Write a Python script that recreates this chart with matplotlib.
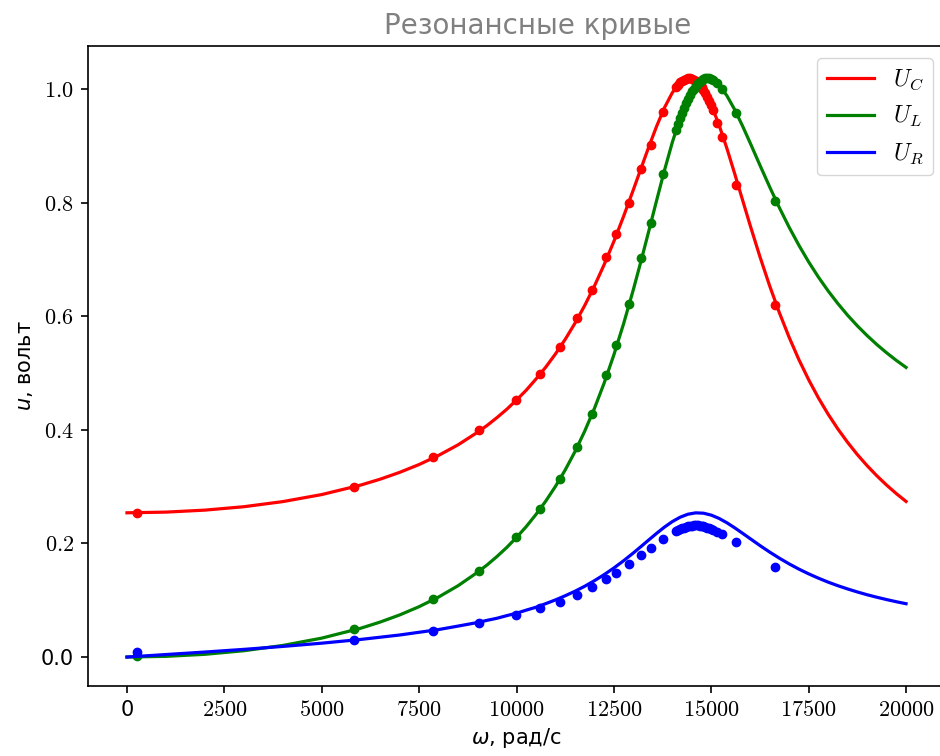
import matplotlib
matplotlib.use('Agg')
import matplotlib.pyplot as plt

# измеренные точки: частота, рад/с
omega_exp = [257, 5828, 7856, 9037, 9987, 10603, 11116, 11553, 11938, 12298,
             12554, 12888, 13196, 13453, 13761,
             14100, 14150, 14200, 14250, 14300, 14350, 14400, 14450, 14500, 14550,
             14600, 14650, 14700, 14750, 14800, 14850, 14900, 14950, 15000, 15050,
             15150, 15275, 15635, 16637]
uc_exp = [0.254, 0.299, 0.352, 0.399, 0.453, 0.499, 0.546, 0.597, 0.646, 0.704,
          0.745, 0.799, 0.859, 0.901, 0.960,
          1.004, 1.008, 1.012, 1.015, 1.017, 1.018, 1.019, 1.019, 1.018, 1.016,
          1.015, 1.011, 1.008, 1.003, 0.999, 0.993, 0.986, 0.979, 0.972, 0.964,
          0.940, 0.915, 0.832, 0.620]
ul_exp = [0.001, 0.049, 0.102, 0.151, 0.211, 0.261, 0.313, 0.370, 0.428, 0.496,
          0.549, 0.621, 0.702, 0.764, 0.850,
          0.928, 0.938, 0.949, 0.958, 0.967, 0.975, 0.983, 0.990, 0.996, 1.001,
          1.006, 1.010, 1.013, 1.016, 1.018, 1.019, 1.019, 1.019, 1.018, 1.016,
          1.010, 1.001, 0.958, 0.803]
ur_exp = [0.009, 0.030, 0.046, 0.060, 0.074, 0.086, 0.097, 0.109, 0.123, 0.137,
          0.148, 0.164, 0.180, 0.192, 0.208,
          0.222, 0.224, 0.226, 0.227, 0.228, 0.229, 0.230, 0.231, 0.231, 0.232,
          0.232, 0.232, 0.231, 0.231, 0.230, 0.229, 0.228, 0.227, 0.226, 0.224,
          0.221, 0.217, 0.202, 0.158]

# теоретические кривые
omega_th = [0, 1000, 2000, 3000, 4000, 5000, 6000, 6500, 7000, 7500, 8000, 8500,
            9000, 9250, 9500, 9750, 10000, 10250, 10500, 10750, 11000, 11250,
            11500, 11750, 12000, 12250, 12500, 12750, 13000, 13200, 13400, 13600,
            13800, 14000, 14200, 14400, 14600, 14800, 15000, 15200, 15400, 15600,
            15800, 16000, 16250, 16500, 16750, 17000, 17250, 17500, 17750, 18000,
            18250, 18500, 18750, 19000, 19250, 19500, 19750, 20000]
uc_th = [0.254, 0.2552, 0.2587, 0.2647, 0.2737, 0.2861, 0.3028, 0.3132, 0.3252,
         0.3390, 0.3551, 0.3737, 0.3958, 0.4081, 0.4217, 0.4363, 0.4526, 0.4699,
         0.4895, 0.5104, 0.5337, 0.5594, 0.5877, 0.6189, 0.6533, 0.6910, 0.7320,
         0.7762, 0.8229, 0.8611, 0.8991, 0.9352, 0.9676, 0.9938, 1.0116, 1.0189,
         1.0146, 0.9985, 0.9720, 0.9369, 0.8959, 0.8514, 0.8055, 0.7598, 0.7048,
         0.6534, 0.6060, 0.5628, 0.5236, 0.4883, 0.4564, 0.4276, 0.4016, 0.3780,
         0.3565, 0.3370, 0.3192, 0.3028, 0.2878, 0.2740]
ul_th = [0.0, 0.0012, 0.0048, 0.0111, 0.0204, 0.0333, 0.0507, 0.0616, 0.0741,
         0.0887, 0.1057, 0.1256, 0.1492, 0.1625, 0.1771, 0.1930, 0.2106, 0.2297,
         0.2511, 0.2745, 0.3005, 0.3294, 0.3616, 0.3976, 0.4377, 0.4825, 0.5322,
         0.5871, 0.6471, 0.6982, 0.7512, 0.8049, 0.8574, 0.9064, 0.9491, 0.9831,
         1.0063, 1.0177, 1.0176, 1.0072, 0.9886, 0.9641, 0.9356, 0.9051, 0.8660,
         0.8277, 0.7910, 0.7567, 0.7250, 0.6958, 0.6691, 0.6447, 0.6224, 0.6019,
         0.5832, 0.5661, 0.5503, 0.5358, 0.5224, 0.5100]
ur_th = [0.0, 0.0044, 0.0088, 0.0135, 0.0187, 0.0244, 0.0310, 0.0349, 0.0388,
         0.0436, 0.0484, 0.0545, 0.0608, 0.0647, 0.0683, 0.0729, 0.0772, 0.0826,
         0.0877, 0.0940, 0.1006, 0.1079, 0.1158, 0.1246, 0.1344, 0.1451, 0.1568,
         0.1696, 0.1833, 0.1948, 0.2065, 0.2180, 0.2289, 0.2385, 0.2462, 0.2515,
         0.2539, 0.2533, 0.2499, 0.2441, 0.2365, 0.2276, 0.2181, 0.2084, 0.1963,
         0.1848, 0.1740, 0.1640, 0.1548, 0.1465, 0.1389, 0.1319, 0.1256, 0.1199,
         0.1146, 0.1097, 0.1053, 0.1012, 0.0974, 0.0939]

x_ticks = [0, 2500, 5000, 7500, 10000, 12500, 15000, 17500, 20000]
x_ticklabels = ['0'] + ['$%d$' % t for t in x_ticks[1:]]
y_ticks = [0.0, 0.2, 0.4, 0.6, 0.8, 1.0]
y_ticklabels = ['0.0'] + ['$%.1f$' % t for t in y_ticks[1:]]

plt.rcParams['font.family'] = ['DejaVu Sans']
plt.rcParams['mathtext.fontset'] = 'cm'

fig = plt.figure(figsize=(9.4, 7.56), dpi=100)
# правый край осей уходит за край картинки, как в оригинале
ax = fig.add_axes([88 / 940, 70 / 756, 857 / 940, 640 / 756])

series = [(uc_th, uc_exp, 'red', '$U_C$'),
          (ul_th, ul_exp, 'green', '$U_L$'),
          (ur_th, ur_exp, 'blue', '$U_R$')]
for th, exp, color, label in series:
    ax.plot(omega_th, th, color=color, lw=2.3, label=label)
    ax.plot(omega_exp, exp, 'o', color=color, ms=6)

ax.set_xlim(-1000, 21000)
ax.set_ylim(-0.051, 1.076)

ax.set_xticks(x_ticks)
ax.set_yticks(y_ticks)
ax.set_xticklabels(x_ticklabels)
ax.set_yticklabels(y_ticklabels)
for lbl in ax.get_xticklabels() + ax.get_yticklabels():
    lbl.set_fontsize(15 if lbl.get_text() in ('0', '0.0') else 16)
ax.tick_params(length=5.25, width=1.2, pad=5)
for sp in ax.spines.values():
    sp.set_linewidth(1.2)

ax.set_xlabel('$\\omega$, рад/с', fontsize=15, math_fontfamily='dejavusans')
ax.set_ylabel('$u$, вольт', fontsize=15, math_fontfamily='dejavusans')
ax.set_title('Резонансные кривые', color='gray', fontsize=20, x=0.525, pad=9)

ax.legend(loc='upper right', fontsize=17)

fig.savefig('out.png', dpi=100)
